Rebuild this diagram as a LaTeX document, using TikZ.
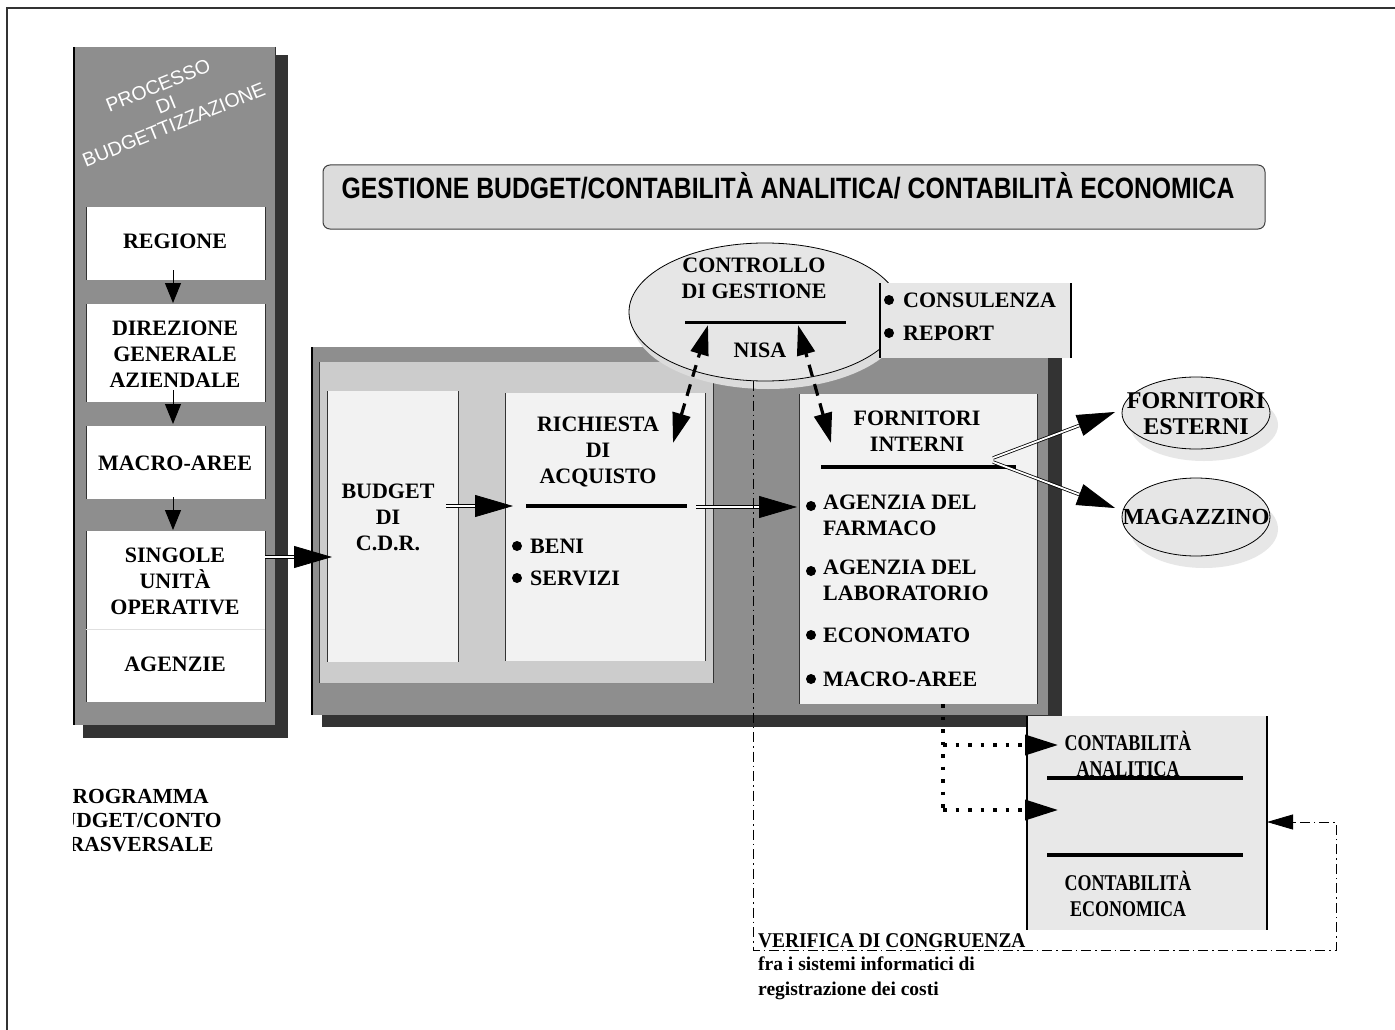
\documentclass[tikz,border=0pt]{standalone}
\usepackage{fontspec}
\setmainfont{Liberation Serif}
\newfontfamily\arialf{Liberation Sans}
\usetikzlibrary{shapes.geometric,arrows.meta,calc}

\definecolor{panel}{HTML}{8E8E8E}
\definecolor{shadowc}{HTML}{333333}
\definecolor{innerc}{HTML}{CCCCCC}
\definecolor{paper}{HTML}{F2F2F2}
\definecolor{cloud}{HTML}{E6E6E6}
\definecolor{cloudshadow}{HTML}{DCDCDC}
\definecolor{titlec}{HTML}{DCDCDC}
\definecolor{contac}{HTML}{E8E8E8}

\newcommand{\narrowtext}[2]{\scalebox{#1}[1]{#2}}

\tikzset{
  lbl/.style={font=\fontsize{22}{26}\selectfont\bfseries, align=center, inner sep=0pt},
  lbll/.style={font=\fontsize{22}{26}\selectfont\bfseries, align=left, inner sep=0pt, anchor=west},
  plate/.style={inner sep=0pt, anchor=north west, outer sep=0pt},
  sideline/.style={line width=1pt, black!80},
  sepline/.style={line width=3.5pt, black},
  smalltip/.style={line width=1pt, -{Triangle[length=20pt,width=16pt]}},
  dblshaft/.style={draw, line width=0.8pt, double=white, double distance=1.8pt},
  bigtip/.style={line width=0.8pt, -{Triangle[length=38pt,width=22pt]}},
  dashedarrow/.style={line width=3.2pt, dash pattern=on 12pt off 8pt,
    {Triangle[length=30pt,width=18pt]}-{Triangle[length=30pt,width=18pt]}},
  dottedarrow/.style={line width=3.5pt, dash pattern=on 3.5pt off 9pt,
    -{Triangle[length=33pt,width=20pt]}},
  dashdotline/.style={line width=0.8pt, dash pattern=on 10pt off 4pt on 1.5pt off 4pt},
  cloudshape/.style={ellipse, inner sep=0pt, fill=cloud, draw=black, line width=0.8pt},
}

\begin{document}
\begin{tikzpicture}[x=1pt,y=-1pt]
\useasboundingbox (0,0) rectangle (1395,1030);
\fill[white] (0,0) rectangle (1395,1030);

% page frame
\draw[line width=1.2pt, black!80] (7,1030) -- (7,8) -- (1395,8);

% ---------- left column: budgeting process ----------
\fill[shadowc] (83,55) rectangle (288,738);
\node[plate, fill=panel, minimum width=201pt, minimum height=678pt] (proc) at (74,47) {};
\draw[line width=2pt] (proc.north west) -- (proc.south west);
\draw[sideline] (proc.north east) -- (proc.south east);

\node[lbl, rotate=22, text=white, font=\arialf\fontsize{19.5}{21}\selectfont]
  (proctitle) at (166,105) {PROCESSO\\DI\\BUDGETTIZZAZIONE};

\node[plate, fill=white, minimum width=179pt, minimum height=73pt] (reg) at (86,207) {};
\node[plate, fill=white, minimum width=179pt, minimum height=98pt] (dir) at (86,304) {};
\node[plate, fill=white, minimum width=179pt, minimum height=73pt] (mac) at (86,426) {};
\node[plate, fill=white, minimum width=179pt, minimum height=98pt] (sing) at (86,531) {};
\node[plate, fill=white, minimum width=179pt, minimum height=73pt] (agz) at (86,629) {};
\foreach \b in {reg,dir,mac,sing,agz}{
  \draw[sideline] (\b.north west) -- (\b.south west);
  \draw[sideline] (\b.north east) -- (\b.south east);
}
\draw[black!12, line width=0.6pt] (sing.south west) -- (sing.south east);

\node[lbl] (regt) at (175,241) {REGIONE};
\node[lbl] (dirt) at (175,354) {DIREZIONE\\GENERALE\\AZIENDALE};
\node[lbl] (mact) at (175,463) {MACRO-AREE};
\node[lbl] (singt) at (175,581) {SINGOLE\\UNITÀ\\OPERATIVE};
\node[lbl] (agzt) at (175,664) {AGENZIE};

\coordinate (a1s) at (173,270); \coordinate (a1e) at (173,303);
\coordinate (a2s) at (173,390); \coordinate (a2e) at (173,424);
\coordinate (a3s) at (173,497); \coordinate (a3e) at (173,530);
\draw[smalltip] (a1s) -- (a1e);
\draw[smalltip] (a2s) -- (a2e);
\draw[smalltip] (a3s) -- (a3e);

% program label, cut by the page margin
\begin{scope}
  \clip (73,770) rectangle (320,870);
  \node[lbl, font=\fontsize{21.5}{24}\selectfont\bfseries] (prog) at (134,821)
    {PROGRAMMA\\BUDGET/CONTO\\TRASVERSALE};
\end{scope}

% ---------- heading ----------
\node[plate, draw=black!75, line width=1pt, fill=titlec, rounded corners=7pt,
  minimum width=942pt, minimum height=64pt] (title) at (323,165) {};
\node[inner sep=0pt] (titlet) at (788,186)
  {\scalebox{0.884}[1.05]{\arialf\bfseries\fontsize{28}{30}\selectfont GESTIONE BUDGET/CONTABILITÀ ANALITICA/ CONTABILITÀ ECONOMICA}};

% ---------- central panel ----------
\fill[shadowc] (322,357) rectangle (1062,727);
\node[plate, fill=panel, minimum width=736pt, minimum height=368pt] (main) at (312,347) {};
\draw[line width=2pt] (main.north west) -- (main.south west);
\draw[sideline] (main.north east) -- (main.south east);

\node[plate, fill=innerc, minimum width=394pt, minimum height=321pt] (inner) at (319,362) {};
\draw[sideline] (inner.north west) -- (inner.south west);
\draw[sideline] (inner.north east) -- (inner.south east);
\draw[black!45, line width=0.6pt] (inner.south west) -- (inner.south east);

\node[plate, fill=paper, minimum width=131pt, minimum height=271pt] (budget) at (327,391) {};
\node[plate, fill=paper, minimum width=200pt, minimum height=268pt] (rich) at (505,393) {};
\node[plate, fill=paper, minimum width=238pt, minimum height=310pt] (forn) at (799,394) {};
\foreach \b in {budget,rich,forn}{
  \draw[sideline] (\b.north west) -- (\b.south west);
  \draw[sideline] (\b.north east) -- (\b.south east);
}

\node[lbl] (budgett) at (388,517) {BUDGET\\DI\\C.D.R.};

\node[lbl] (richt) at (598,452) {RICHIESTA\\DI\\ACQUISTO};
\draw[sepline] (526,506) -- (687,506);
\fill (517,546) circle[radius=5];
\node[lbll] (beni) at (530,546) {BENI};
\fill (517,578) circle[radius=5];
\node[lbll] (serv) at (530,578) {SERVIZI};

\node[lbl] (fornt) at (917,431) {FORNITORI\\INTERNI};
\draw[sepline] (821,467) -- (1016,467);
\fill (811,506) circle[radius=5];
\node[lbll, anchor=north west] (farm) at (823,495) {AGENZIA DEL\\FARMACO};
\fill (811,571) circle[radius=5];
\node[lbll, anchor=north west] (lab) at (823,560) {AGENZIA DEL\\LABORATORIO};
\fill (811,635) circle[radius=5];
\node[lbll] (econ) at (823,635) {ECONOMATO};
\fill (811,679) circle[radius=5];
\node[lbll] (macro2) at (823,679) {MACRO-AREE};

% ---------- management control ----------
\fill[cloudshadow] (768,320) ellipse[x radius=136, y radius=69];
\node[cloudshape, minimum width=272pt, minimum height=138pt] (ctrl) at (765,312) {};
\node[lbl] (ctrlt) at (754,278) {CONTROLLO\\DI GESTIONE};
\draw[line width=3pt] (685,322) -- (846,322);
\node[lbl] (nisa) at (760,350) {NISA};

\node[plate, fill=cloud, minimum width=191pt, minimum height=75pt] (cons) at (880,283) {};
\draw[line width=1.2pt] (cons.north west) -- (cons.south west);
\draw[line width=1.2pt] (cons.north east) -- (cons.south east);
\fill (889,300) circle[radius=5];
\node[lbll] (consl) at (903,300) {CONSULENZA};
\fill (889,333) circle[radius=5];
\node[lbll] (repo) at (903,333) {REPORT};

% ---------- external suppliers and warehouse ----------
\fill[cloudshadow!70] (1204,425) ellipse[x radius=74, y radius=36];
\node[cloudshape, minimum width=148pt, minimum height=72pt] (est) at (1196,413) {};
\node[lbl, font=\fontsize{24}{26}\selectfont\bfseries] (estt) at (1196,414) {FORNITORI\\ESTERNI};
\fill[cloudshadow!70] (1204,529) ellipse[x radius=74, y radius=39];
\node[cloudshape, minimum width=148pt, minimum height=78pt] (mag) at (1196,517) {};
\node[lbl, font=\fontsize{23}{26}\selectfont\bfseries] (magt) at (1196,517) {MAGAZZINO};

% ---------- accounting ----------
\node[plate, fill=contac, minimum width=240pt, minimum height=214pt] (conta) at (1027,716) {};
\draw[line width=1.2pt] (conta.north west) -- (conta.south west);
\draw[line width=1.2pt] (conta.north east) -- (conta.south east);
\node[lbl, font=\fontsize{22.5}{26}\selectfont\bfseries] (anal) at (1128,754)
  {\narrowtext{0.8}{CONTABILITÀ}\\\narrowtext{0.8}{ANALITICA}};
\draw[sepline] (1047,778) -- (1243,778);
\draw[sepline] (1047,855) -- (1243,855);
\node[lbl, font=\fontsize{22.5}{26}\selectfont\bfseries] (econo) at (1128,894)
  {\narrowtext{0.8}{CONTABILITÀ}\\\narrowtext{0.8}{ECONOMICA}};

\node[inner sep=0pt, anchor=west, font=\fontsize{20}{24}\selectfont\bfseries] (verif) at (758,941)
  {\scalebox{0.97}[1.05]{VERIFICA DI CONGRUENZA}};
\node[inner sep=0pt, anchor=north west, align=left, font=\fontsize{19.5}{25}\selectfont\bfseries]
  (verifn) at (758,957) {fra i sistemi informatici di\\registrazione dei costi};

% ---------- connectors ----------
% double-line flows
\coordinate (f1s) at (265,557); \coordinate (f1e) at (332,557);
\coordinate (f2s) at (446,506); \coordinate (f2e) at (513,506);
\coordinate (f3s) at (696,507); \coordinate (f3e) at (797,507);
\coordinate (f4s) at (993,458); \coordinate (f4e) at (1115,412);
\coordinate (f5s) at (993,462); \coordinate (f5e) at (1115,508);
\foreach \s/\e in {f1s/f1e,f2s/f2e,f3s/f3e,f4s/f4e,f5s/f5e}{
  \draw[dblshaft, shorten >=34pt] (\s) -- (\e);
  \draw[bigtip] ($(\e)!38pt!(\s)$) -- (\e);
}

% exchanges with management control
\coordinate (d1a) at (673,443); \coordinate (d1b) at (708,325);
\coordinate (d2a) at (831,443); \coordinate (d2b) at (798,325);
\draw[dashedarrow] (d1a) -- (d1b);
\draw[dashedarrow] (d2a) -- (d2b);

% feeds into accounting
\coordinate (dtop) at (943,704);
\coordinate (dk1) at (943,745); \coordinate (dk2) at (943,810);
\coordinate (dt1) at (1058,745); \coordinate (dt2) at (1058,810);
\draw[line width=3.5pt, dash pattern=on 3.5pt off 9pt] (dtop) -- (dk2);
\draw[dottedarrow] (dk1) -- (dt1);
\draw[dottedarrow] (dk2) -- (dt2);

% congruence check loop
\coordinate (vtop) at (753,381);
\coordinate (vbot) at (753,950);
\coordinate (vright) at (1336,950);
\coordinate (vup) at (1336,822);
\draw[dashdotline] (vtop) -- (vbot) -- (vright) -- (vup) -- ($(conta.east |- vup)+(22,0)$);
\draw[line width=0.8pt, -{Triangle[length=26pt,width=15pt]}] ($(conta.east |- vup)+(26,0)$) -- (conta.east |- vup);
\end{tikzpicture}
\end{document}
